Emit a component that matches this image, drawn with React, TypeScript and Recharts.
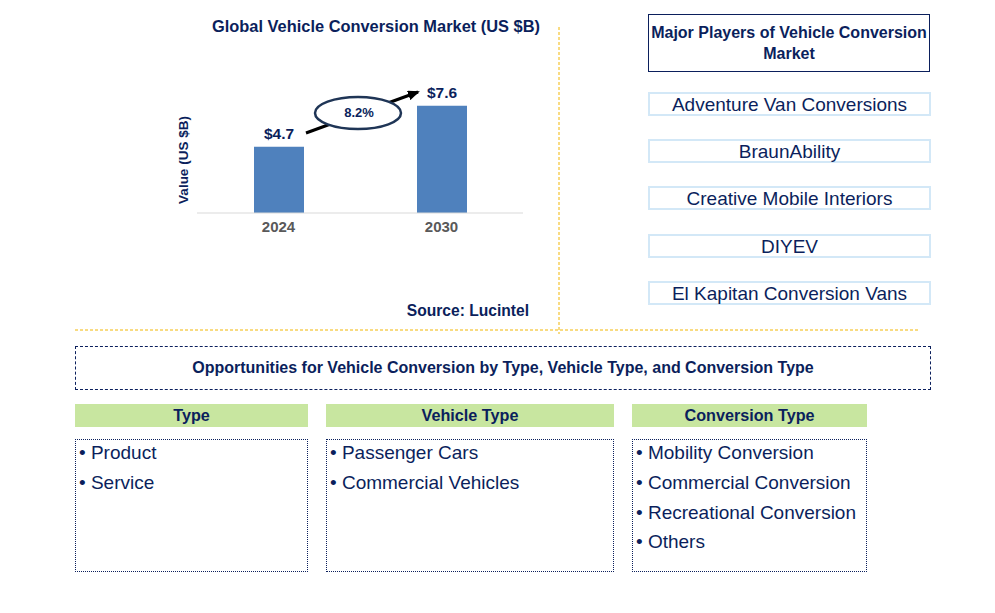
import { BarChart, Bar, XAxis, YAxis, LabelList } from "recharts";

const years = ["2024", "2030"];
const marketValues = [4.7, 7.6];
const valueLabels = ["$4.7", "$7.6"];
const cagrLabel = "8.2%";

const players = [
  "Adventure Van Conversions",
  "BraunAbility",
  "Creative Mobile Interiors",
  "DIYEV",
  "El Kapitan Conversion Vans",
];

const segmentTitles = ["Type", "Vehicle Type", "Conversion Type"];
const typeItems = ["Product", "Service"];
const vehicleTypeItems = ["Passenger Cars", "Commercial Vehicles"];
const conversionTypeItems = [
  "Mobility Conversion",
  "Commercial Conversion",
  "Recreational Conversion",
  "Others",
];

const navy = "#0b1f5c";
const gold = "#f2b705";
const barBlue = "#4f81bd";

const chartData = years.map((y, i) => ({
  year: y,
  value: marketValues[i],
  label: valueLabels[i],
}));

const segmentCols = [
  { left: 75, width: 233, items: typeItems },
  { left: 326, width: 288, items: vehicleTypeItems },
  { left: 632, width: 235, items: conversionTypeItems },
];

const App = () => {
  return (
    <div
      style={{
        position: "absolute",
        left: 0,
        top: 0,
        width: 995,
        height: 613,
        background: "#fff",
        fontFamily: "'Liberation Sans', Arial, sans-serif",
        color: navy,
        overflow: "hidden",
      }}
    >
      {/* market size chart */}
      <div style={{ position: "absolute", left: 0, top: 0 }}>
        <BarChart
          width={560}
          height={340}
          data={chartData}
          margin={{ top: 72, right: 37, bottom: 97, left: 197 }}
        >
          <XAxis
            dataKey="year"
            axisLine={{ stroke: "#d9d9d9" }}
            tickLine={false}
            height={30}
            tick={{ fill: "#595959", fontSize: 15, fontWeight: 700 }}
          />
          <YAxis hide domain={[0, 10]} />
          <Bar dataKey="value" fill={barBlue} barSize={50} isAnimationActive={false}>
            <LabelList
              dataKey="label"
              position="top"
              offset={8}
              fill={navy}
              fontSize={15.5}
              fontWeight={700}
            />
          </Bar>
        </BarChart>
      </div>

      {/* annotations over the chart */}
      <svg
        width={995}
        height={613}
        style={{ position: "absolute", left: 0, top: 0, pointerEvents: "none" }}
      >
        <defs>
          <marker
            id="head"
            markerUnits="userSpaceOnUse"
            markerWidth="12"
            markerHeight="10"
            refX="10"
            refY="5"
            orient="auto"
          >
            <path d="M0,0 L12,5 L0,10 z" fill="#000" />
          </marker>
        </defs>
        <text x={376} y={32} textAnchor="middle" fontSize={16.4} fontWeight={700} fill={navy}>
          Global Vehicle Conversion Market (US $B)
        </text>
        <text
          transform="translate(188,160) rotate(-90)"
          textAnchor="middle"
          fontSize={13.5}
          fontWeight={700}
          fill={navy}
        >
          Value (US $B)
        </text>
        <line x1={306} y1={133} x2={418} y2={92} stroke="#000" strokeWidth={3} markerEnd="url(#head)" />
        <ellipse cx={358} cy={113} rx={43} ry={16} fill="#fff" stroke="#1f3556" strokeWidth={2.5} />
        <text x={359} y={117} textAnchor="middle" fontSize={13} fontWeight={700} fill={navy}>
          {cagrLabel}
        </text>
        <text x={529} y={316} textAnchor="end" fontSize={15.6} fontWeight={700} fill={navy}>
          Source: Lucintel
        </text>
        <line x1={559} y1={27} x2={559} y2={334} stroke={gold} strokeWidth={1} strokeDasharray="3 2" />
        <line x1={75} y1={330} x2={920} y2={330} stroke={gold} strokeWidth={1} strokeDasharray="3 2" />
      </svg>

      {/* major players */}
      <div
        style={{
          position: "absolute",
          left: 648,
          top: 14,
          width: 280,
          height: 56,
          border: `1.5px solid ${navy}`,
          display: "flex",
          alignItems: "center",
          justifyContent: "center",
          textAlign: "center",
          fontSize: 16,
          fontWeight: 700,
          lineHeight: "21px",
        }}
      >
        Major Players of Vehicle Conversion Market
      </div>
      {players.map((p, i) => (
        <div
          key={p}
          style={{
            position: "absolute",
            left: 648,
            top: 92 + i * 47.2,
            width: 279,
            height: 20,
            border: "2px solid #d3e8f7",
            textAlign: "center",
            fontSize: 19,
            lineHeight: "21px",
            whiteSpace: "nowrap",
          }}
        >
          {p}
        </div>
      ))}

      {/* opportunities */}
      <div
        style={{
          position: "absolute",
          left: 75,
          top: 346,
          width: 854,
          height: 42,
          border: `1px dashed ${navy}`,
          display: "flex",
          alignItems: "center",
          justifyContent: "center",
          fontSize: 16,
          fontWeight: 700,
          whiteSpace: "nowrap",
        }}
      >
        Opportunities for Vehicle Conversion by Type, Vehicle Type, and Conversion Type
      </div>
      {segmentCols.map((c, i) => (
        <div key={segmentTitles[i]}>
          <div
            style={{
              position: "absolute",
              left: c.left,
              top: 404,
              width: c.width,
              height: 23,
              background: "#c8e6a0",
              textAlign: "center",
              fontSize: 16.2,
              fontWeight: 700,
              lineHeight: "23px",
            }}
          >
            {segmentTitles[i]}
          </div>
          <div
            style={{
              position: "absolute",
              left: c.left,
              top: 439,
              width: c.width - 2,
              height: 131,
              border: `1px dotted ${navy}`,
            }}
          >
            {c.items.map((it, j) => (
              <div
                key={it}
                style={{
                  position: "absolute",
                  left: 3,
                  top: 1 + j * 29.8,
                  fontSize: 19,
                  lineHeight: "24px",
                  whiteSpace: "nowrap",
                }}
              >
                {"\u2022 " + it}
              </div>
            ))}
          </div>
        </div>
      ))}
    </div>
  );
};

export default App;
